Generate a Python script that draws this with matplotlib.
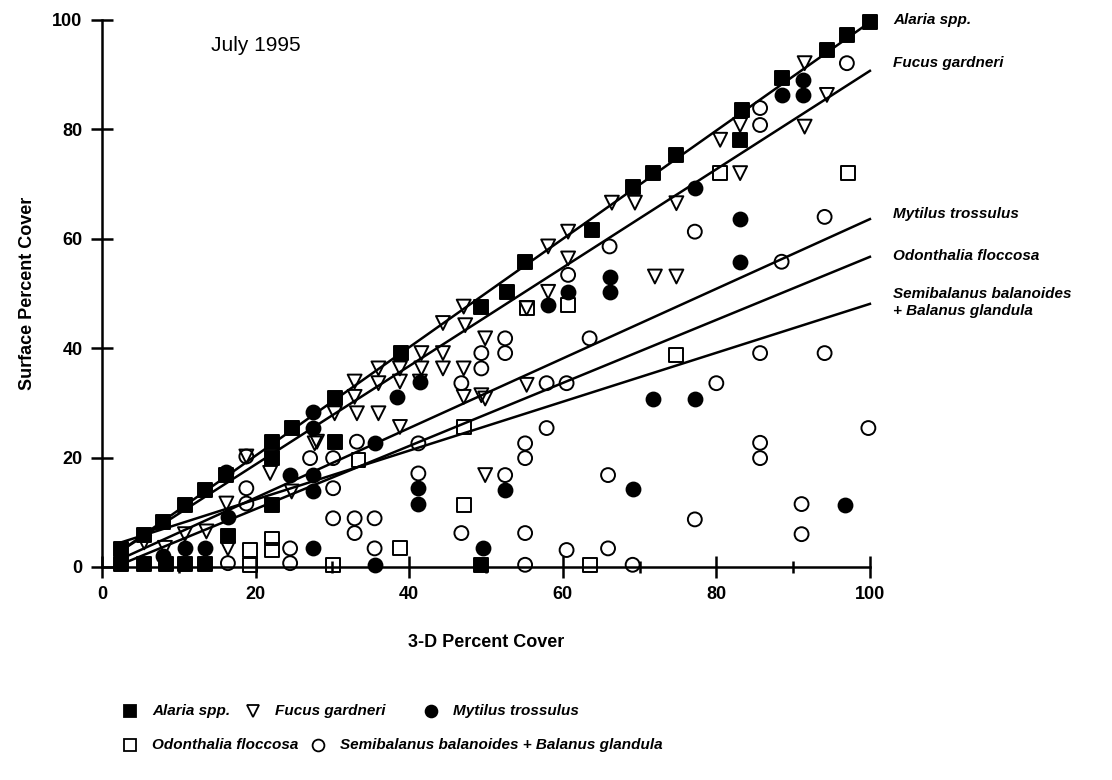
import matplotlib
matplotlib.use("Agg")
import matplotlib.pyplot as plt

plt.rcParams["font.family"] = ["Liberation Sans", "DejaVu Sans"]

# Alaria spp. (filled squares)
alaria_x = [2.5, 2.5, 5.5, 5.5, 8.0, 8.3, 10.8, 10.8, 13.4, 13.4, 16.2, 16.4,
            22.1, 22.1, 22.1, 24.7, 30.4, 30.4, 38.9, 49.4, 49.4, 52.7, 55.1,
            63.8, 69.2, 71.8, 74.8, 83.1, 83.3, 88.5, 94.4, 97.0, 100.0]
alaria_y = [3.3, 0.5, 5.8, 0.5, 8.2, 0.5, 11.3, 0.5, 14.1, 0.5, 16.8, 5.6,
            22.9, 19.9, 11.3, 25.4, 30.9, 22.9, 39.2, 47.6, 0.4, 50.3, 55.8,
            61.6, 69.5, 72.0, 75.3, 78.1, 83.5, 89.3, 94.5, 97.3, 99.7]

# Fucus gardneri (open down triangles)
fucus_x = [5.5, 8.2, 10.8, 13.6, 16.2, 16.4, 18.8, 21.9, 24.7, 27.7, 28.0,
           30.3, 32.9, 32.9, 33.2, 36.0, 36.0, 36.0, 38.8, 38.8, 38.8, 41.4,
           41.6, 41.6, 44.4, 44.4, 44.4, 47.1, 47.1, 47.1, 47.3, 49.4, 49.9,
           49.9, 49.9, 55.3, 55.3, 58.1, 58.1, 60.7, 60.7, 66.4, 69.4, 72.0,
           74.8, 74.8, 80.5, 83.1, 83.1, 91.5, 91.5, 94.4]
fucus_y = [4.5, 3.5, 6.0, 6.5, 11.6, 3.4, 20.2, 17.2, 13.8, 22.6, 22.9,
           28.1, 33.9, 31.1, 28.1, 36.3, 33.6, 28.1, 36.3, 33.9, 25.6, 33.9,
           39.1, 36.3, 44.6, 39.1, 36.3, 47.6, 36.3, 31.1, 44.2, 31.4, 41.8,
           30.8, 16.8, 47.3, 33.3, 58.6, 50.3, 61.3, 56.4, 66.6, 66.6, 53.1,
           66.5, 53.1, 78.1, 80.8, 72.0, 92.1, 80.5, 86.3]

# Mytilus trossulus (filled circles)
mytilus_x = [8.0, 10.8, 13.4, 16.2, 16.4, 24.5, 27.5, 27.5, 27.5, 27.5, 27.5,
             35.5, 35.5, 38.4, 41.2, 41.2, 41.4, 49.6, 52.5, 58.1, 60.7, 66.1,
             66.1, 69.1, 71.8, 77.2, 77.2, 83.1, 83.1, 88.5, 91.3, 91.3, 96.7]
mytilus_y = [2.0, 3.4, 3.4, 17.4, 9.2, 16.8, 28.4, 25.4, 16.8, 13.8, 3.4,
             22.6, 0.4, 31.1, 14.4, 11.6, 33.9, 3.4, 14.1, 47.9, 50.3, 53.1,
             50.3, 14.3, 30.8, 69.2, 30.8, 63.7, 55.8, 86.3, 89.0, 86.3, 11.3]

# Odonthalia floccosa (open squares)
odon_x = [19.3, 19.3, 22.1, 22.1, 30.1, 33.4, 38.8, 47.1, 47.1, 55.3, 60.7,
          63.6, 74.8, 80.5, 97.2]
odon_y = [3.1, 0.4, 5.2, 3.1, 0.4, 19.6, 3.4, 11.3, 25.6, 47.3, 47.9,
          0.4, 38.8, 72.0, 72.0]

# Semibalanus balanoides + Balanus glandula (open circles)
semi_x = [16.4, 18.8, 18.8, 18.8, 24.5, 24.5, 27.1, 30.1, 30.1, 30.1, 32.9,
          32.9, 33.2, 35.5, 35.5, 41.2, 41.2, 46.8, 46.8, 49.4, 49.4, 52.5,
          52.5, 52.5, 55.1, 55.1, 55.1, 55.1, 57.9, 57.9, 60.5, 60.5, 60.7,
          63.5, 65.9, 65.9, 66.1, 69.1, 77.2, 77.2, 80.0, 85.7, 85.7, 85.7,
          85.7, 85.7, 88.5, 91.1, 91.1, 94.1, 94.1, 97.0, 99.8]
semi_y = [0.7, 20.2, 14.4, 11.6, 3.4, 0.7, 19.9, 19.9, 14.4, 8.9, 8.9,
          6.2, 22.9, 8.9, 3.4, 22.6, 17.1, 33.6, 6.2, 39.1, 36.3, 41.8,
          39.1, 16.8, 22.6, 19.9, 6.2, 0.4, 33.6, 25.4, 33.6, 3.1, 53.4,
          41.8, 16.8, 3.4, 58.6, 0.4, 61.3, 8.7, 33.6, 83.9, 80.8, 39.1,
          22.7, 19.9, 55.8, 11.5, 6.0, 64.0, 39.1, 92.1, 25.4]

# regression lines (end points)
fit_x = [2.5, 100]
fit_alaria = [3.0, 99.6]
fit_fucus = [3.0, 90.7]
fit_mytilus = [1.5, 63.6]
fit_odon = [0.5, 56.7]
fit_semi = [4.5, 48.1]

line_labels = ["Alaria spp.", "Fucus gardneri", "Mytilus trossulus",
               "Odonthalia floccosa", "Semibalanus balanoides\n+ Balanus glandula"]

fig = plt.figure(figsize=(11.12, 7.8), dpi=100)
ax = fig.add_axes([0.0917, 0.2731, 0.6906, 0.7013])

style = dict(s=100, linewidths=1.4, clip_on=False, zorder=3)
ax.scatter(semi_x, semi_y, marker="o", facecolors="none", edgecolors="black", **style)
ax.scatter(odon_x, odon_y, marker="s", facecolors="none", edgecolors="black", **style)
ax.scatter(fucus_x, fucus_y, marker="v", facecolors="none", edgecolors="black", **style)
ax.scatter(mytilus_x, mytilus_y, marker="o", facecolors="black", edgecolors="black", **style)
ax.scatter(alaria_x, alaria_y, marker="s", facecolors="black", edgecolors="black", **style)

fits = [fit_alaria, fit_fucus, fit_mytilus, fit_odon, fit_semi]
for fy in fits:
    ax.plot(fit_x, fy, color="black", lw=1.8, zorder=4, clip_on=False)

# labels at the right end of the lines
label_y = [100, 92.1, 64.5, 56.9, 48.3]
for lab, ly in zip(line_labels, label_y):
    ax.text(103, ly, lab, style="italic", fontsize=11, fontweight="bold",
            va="center", ha="left", linespacing=1.3, clip_on=False)

ax.text(20, 95.4, "July 1995", fontsize=15, ha="center", va="center")

ax.set_xlim(0, 100)
ax.set_ylim(0, 100)
for side in ["top", "right"]:
    ax.spines[side].set_visible(False)
ax.spines["left"].set_linewidth(1.8)
ax.spines["bottom"].set_linewidth(1.8)
ax.set_xticks([0, 20, 40, 60, 80, 100])
ax.set_xticks([10, 30, 50, 70, 90], minor=True)
ax.set_yticks([0, 20, 40, 60, 80, 100])
ax.tick_params(axis="both", which="major", direction="inout", length=16, width=1.8,
               labelsize=13, pad=6)
ax.tick_params(axis="x", which="minor", direction="inout", length=9, width=1.8)
for t in ax.get_xticklabels() + ax.get_yticklabels():
    t.set_fontweight("bold")

ax.set_xlabel("3-D Percent Cover", fontsize=13, fontweight="bold", labelpad=22)
ax.set_ylabel("Surface Percent Cover", fontsize=13, fontweight="bold", labelpad=12)

# legend below the plot, placed by hand
leg = fig.add_axes([0, 0, 1, 1], facecolor="none")
leg.set_xlim(0, 1112)
leg.set_ylim(780, 0)
leg.axis("off")
entries = [
    (130, 711, "s", "black", "Alaria spp."),
    (253, 711, "v", "none", "Fucus gardneri"),
    (431, 711, "o", "black", "Mytilus trossulus"),
    (130, 745, "s", "none", "Odonthalia floccosa"),
    (318, 745, "o", "none", "Semibalanus balanoides + Balanus glandula"),
]
for mx, my, mk, fc, lab in entries:
    leg.plot([mx], [my], marker=mk, ms=8.5, mfc=fc, mec="black", mew=1.3, ls="none")
    leg.text(mx + 22, my, lab, style="italic", fontsize=11, fontweight="bold",
             va="center", ha="left")

fig.savefig("out.png", dpi=100)
